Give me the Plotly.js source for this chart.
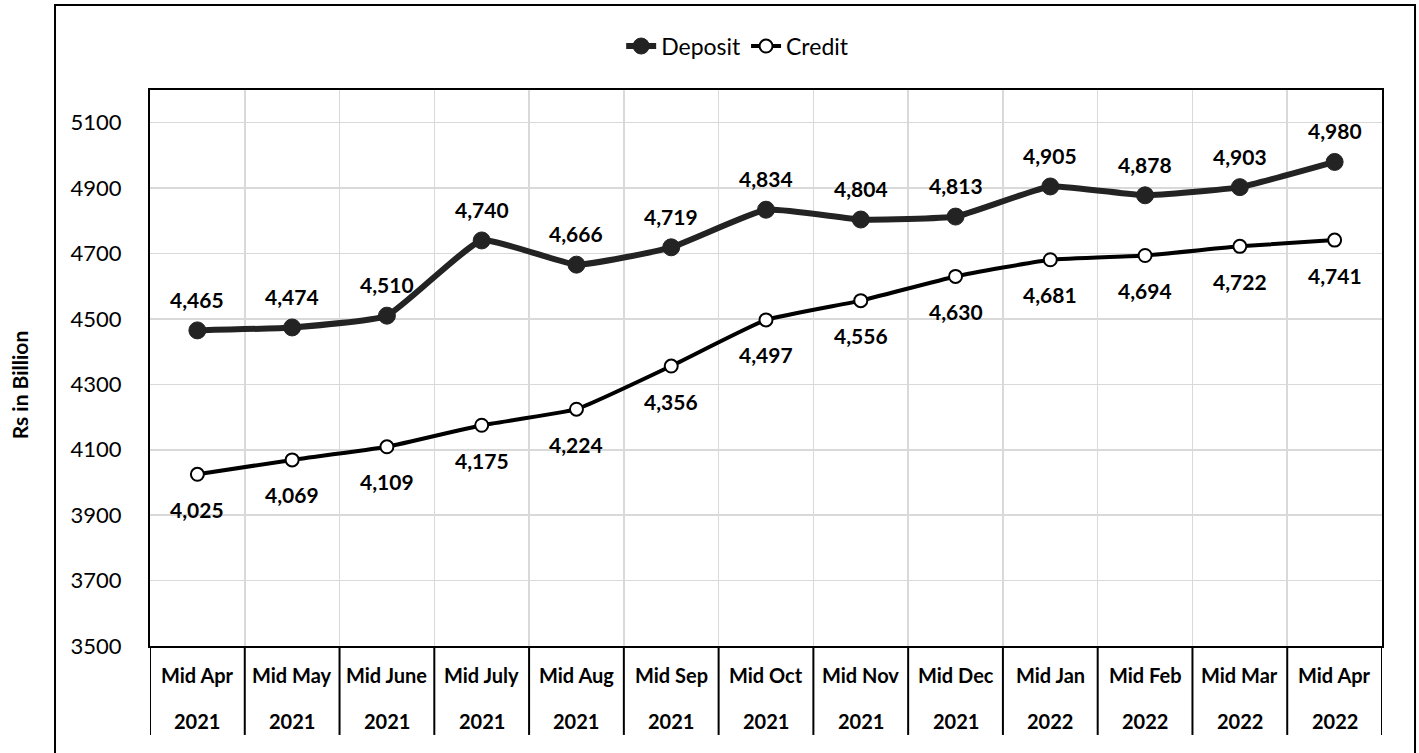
<!DOCTYPE html>
<html>
<head>
<meta charset="utf-8">
<script src="https://cdn.plot.ly/plotly-3.0.1.min.js"></script>
<style>html,body{margin:0;padding:0;background:#fff;}#chart{width:1419px;height:753px;}</style>
</head>
<body>
<div id="chart"></div>
<script>
const months = ["Mid Apr","Mid May","Mid June","Mid July","Mid Aug","Mid Sep","Mid Oct","Mid Nov","Mid Dec","Mid Jan","Mid Feb","Mid Mar","Mid Apr"];
const years = ["2021","2021","2021","2021","2021","2021","2021","2021","2021","2022","2022","2022","2022"];
const deposit = [4465,4474,4510,4740,4666,4719,4834,4804,4813,4905,4878,4903,4980];
const credit = [4025,4069,4109,4175,4224,4356,4497,4556,4630,4681,4694,4722,4741];

const FONT = "Lato, 'Open Sans', sans-serif";
const idx = months.map((_, i) => i);
const fmt = v => v.toLocaleString('en-US');

const traces = [
  {
    x: idx, y: deposit, name: "Deposit", type: "scatter", mode: "lines+markers",
    line: {color: "#232323", width: 6, shape: "spline", smoothing: 0.4},
    marker: {size: 17, color: "#232323", line: {color: "#232323", width: 1}}
  },
  {
    x: idx, y: credit, name: "Credit", type: "scatter", mode: "lines+markers",
    line: {color: "#000000", width: 4, shape: "spline", smoothing: 0.4},
    marker: {size: 13, color: "#ffffff", line: {color: "#000000", width: 2}}
  }
];

const annotations = [];
idx.forEach(i => {
  annotations.push({x: i, y: deposit[i], xref: "x", yref: "y", text: "<b>" + fmt(deposit[i]) + "</b>",
    showarrow: false, yshift: 31, font: {family: FONT, size: 21, color: "#000"}});
  annotations.push({x: i, y: credit[i], xref: "x", yref: "y", text: "<b>" + fmt(credit[i]) + "</b>",
    showarrow: false, yshift: -35, font: {family: FONT, size: 21, color: "#000"}});
  annotations.push({x: i, y: -0.052, xref: "x", yref: "paper", text: "<b>" + months[i] + "</b>",
    showarrow: false, yanchor: "middle", font: {family: FONT, size: 20, color: "#000"}});
  annotations.push({x: i, y: -0.135, xref: "x", yref: "paper", text: "<b>" + years[i] + "</b>",
    showarrow: false, yanchor: "middle", font: {family: FONT, size: 20, color: "#000"}});
});
annotations.push({x: -0.118, y: 0.469, xref: "paper", yref: "paper", text: "<b>Rs in Billion</b>",
  textangle: -90, showarrow: false, font: {family: FONT, size: 21, color: "#000"}});

const shapes = [];
for (let k = 0; k <= months.length; k++) {
  shapes.push({type: "line", xref: "x", yref: "paper", x0: k - 0.5, x1: k - 0.5, y0: 0, y1: -0.16,
    line: {color: "#000", width: 2}});
}
shapes.push({type: "rect", xref: "paper", yref: "paper", x0: -0.0771, x1: 1.0268, y0: -0.25, y1: 1.1529,
  line: {color: "#000", width: 2}, layer: "below"});

const layout = {
  width: 1419, height: 753,
  margin: {l: 150, r: 37, t: 90, b: 107},
  paper_bgcolor: "#fff", plot_bgcolor: "#fff",
  font: {family: FONT, color: "#000"},
  showlegend: true,
  legend: {orientation: "h", x: 0.477, xanchor: "center", y: 1.079, yanchor: "middle",
    font: {family: FONT, size: 23, color: "#000"}},
  xaxis: {
    range: [-0.5, 12.5], tick0: -0.5, dtick: 1, showticklabels: false, ticks: "",
    showgrid: true, gridcolor: "#d9d9d9", gridwidth: 1.5, zeroline: false,
    showline: true, linecolor: "#000", linewidth: 2, mirror: true
  },
  yaxis: {
    range: [3500, 5200], tick0: 3500, dtick: 200, ticks: "",
    showgrid: true, gridcolor: "#d9d9d9", gridwidth: 1.5, zeroline: false,
    showline: true, linecolor: "#000", linewidth: 2, mirror: true,
    tickfont: {family: FONT, size: 22, color: "#000"}, ticklabelstandoff: 22
  },
  annotations: annotations,
  shapes: shapes
};

Plotly.newPlot("chart", traces, layout, {displayModeBar: false, staticPlot: true});
</script>
</body>
</html>
